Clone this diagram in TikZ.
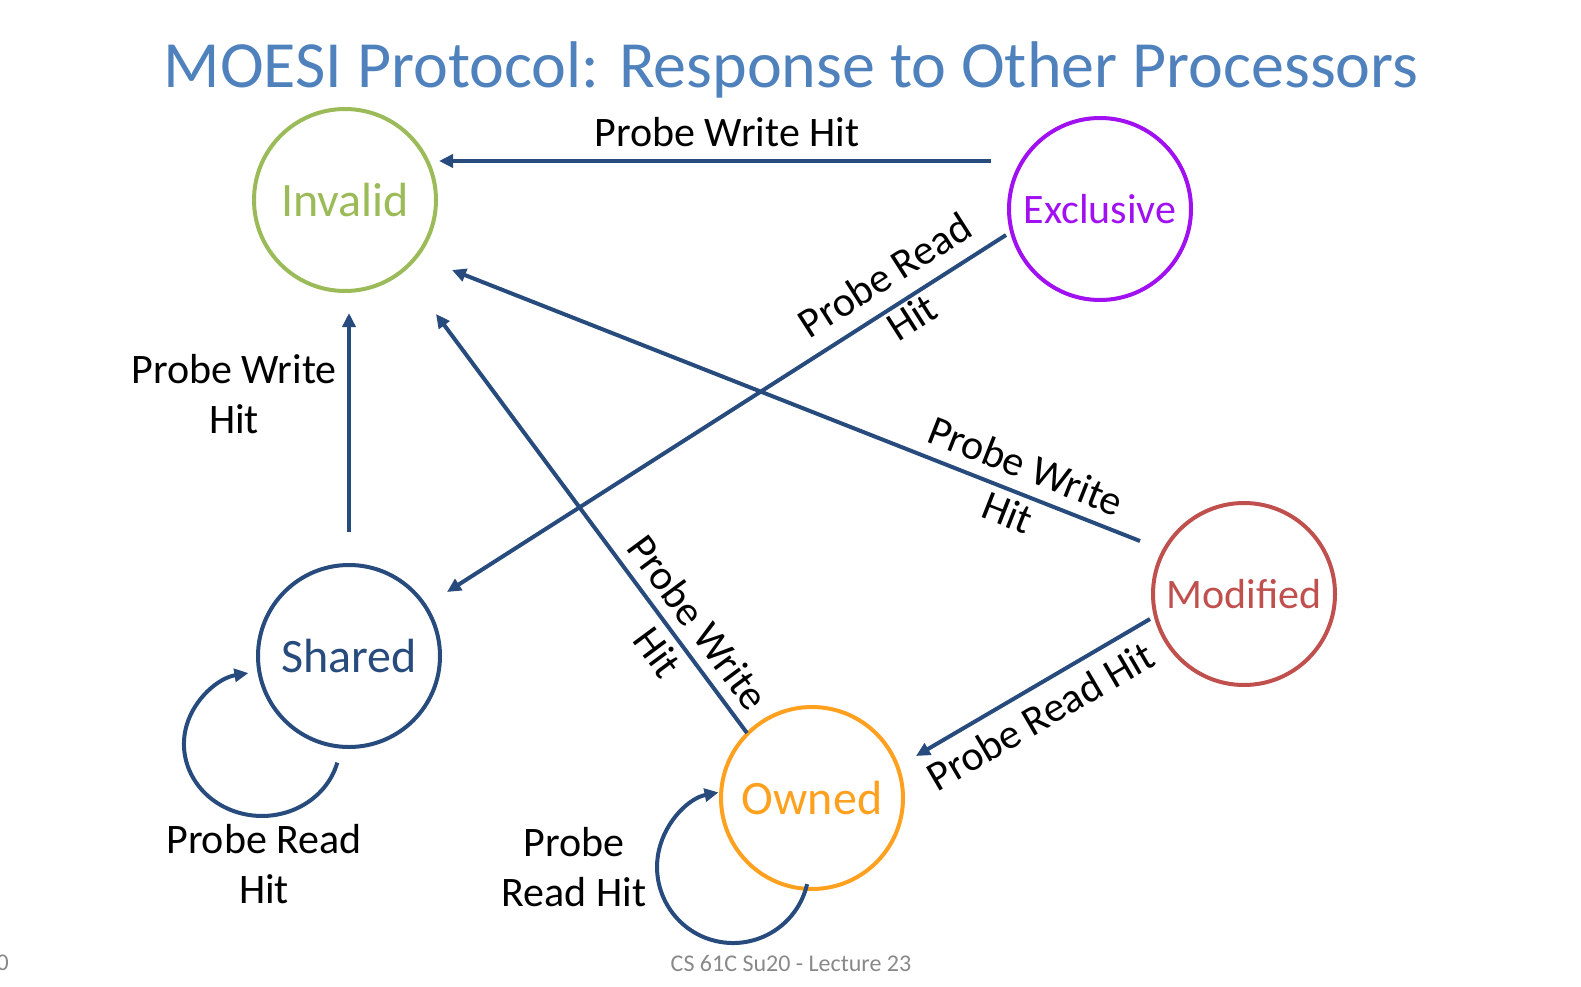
\documentclass[tikz,border=0pt]{standalone}
\usepackage{fontspec}
\setmainfont{Carlito}
\usetikzlibrary{arrows.meta}
\definecolor{ttl}{RGB}{79,129,189}
\definecolor{cgreen}{RGB}{155,187,89}
\definecolor{cpurple}{RGB}{160,16,240}
\definecolor{cblue}{RGB}{40,75,125}
\definecolor{cred}{RGB}{192,80,77}
\definecolor{corange}{RGB}{255,160,30}
\definecolor{cgray}{RGB}{137,137,137}
\begin{document}
\begin{tikzpicture}[x=1pt,y=1pt,
  state/.style={circle,draw=#1,text=#1,line width=4pt,minimum size=182pt,inner sep=0pt,font=\fontsize{48}{57}\selectfont},
  smallstate/.style={state=#1,font=\fontsize{42}{50}\selectfont},
  edge/.style={draw=cblue,line width=4pt,-{Triangle[length=14pt,width=13pt]}},
  lbl/.style={font=\fontsize{42}{50}\selectfont,align=center,inner sep=0pt,text=black}]
\useasboundingbox (0,0) rectangle (1581,-987);

% title and footer
\node[font=\fontsize{66}{79}\selectfont,text=ttl,anchor=base,inner sep=0pt] (title) at (791,-88) {MOESI Protocol: Response to Other Processors};
\node[font=\fontsize{24}{29}\selectfont,text=cgray,inner sep=0pt] (foot) at (791,-963) {CS 61C Su20 - Lecture 23};
\node[font=\fontsize{24}{29}\selectfont,text=cgray,inner sep=0pt,anchor=east] (num) at (9,-963) {0};

% states
\node[state=cgreen] (inv) at (345,-200) {Invalid};
\node[smallstate=cpurple] (exc) at (1100,-209) {Exclusive};
\node[state=cblue] (sha) at (349,-656) {Shared};
\node[smallstate=cred] (mod) at (1244,-594) {Modified};
\node[state=corange] (own) at (812,-798) {Owned};

% connector end points
\coordinate (eiS) at (991,-161);
\coordinate (eiT) at (439,-161);
\coordinate (esS) at (1006,-235);
\coordinate (esT) at (447,-592);
\coordinate (miS) at (1140,-541);
\coordinate (miT) at (452,-270);
\coordinate (oiS) at (747,-733);
\coordinate (oiT) at (436,-314);
\coordinate (siS) at (349,-532);
\coordinate (siT) at (349,-313);
\coordinate (moS) at (1150,-619);
\coordinate (moT) at (916,-756);
\coordinate (slS) at (337.3,-762.6);
\coordinate (olS) at (807.1,-884.1);

% connectors
\draw[edge] (eiS) -- (eiT);
\draw[edge] (esS) -- (esT);
\draw[edge] (miS) -- (miT);
\draw[edge] (oiS) -- (oiT);
\draw[edge] (siS) -- (siT);
\draw[edge] (moS) -- (moT);
\draw[edge] (slS) arc[start angle=-15,end angle=-260,x radius=78,y radius=72];
\draw[edge] (olS) arc[start angle=-13,end angle=-259,radius=76];

% labels
\node[lbl,anchor=base] (lEI) at (727,-147) {Probe Write Hit};
\node[lbl] (lSI) at (234,-394) {Probe Write\\Hit};
\node[lbl,rotate=32.56] (lES) at (898,-296) {Probe Read\\Hit};
\node[lbl,rotate=-21.5] (lMI) at (1017,-489) {Probe Write\\Hit};
\node[lbl,rotate=-53.4] (lOI) at (678,-637) {Probe Write\\Hit};
\node[lbl,rotate=30.35] (lMO) at (1040,-716) {Probe Read Hit};
\node[lbl] (lSL) at (264,-864) {Probe Read\\Hit};
\node[lbl] (lOL) at (574,-867) {Probe\\Read Hit};
\end{tikzpicture}
\end{document}
